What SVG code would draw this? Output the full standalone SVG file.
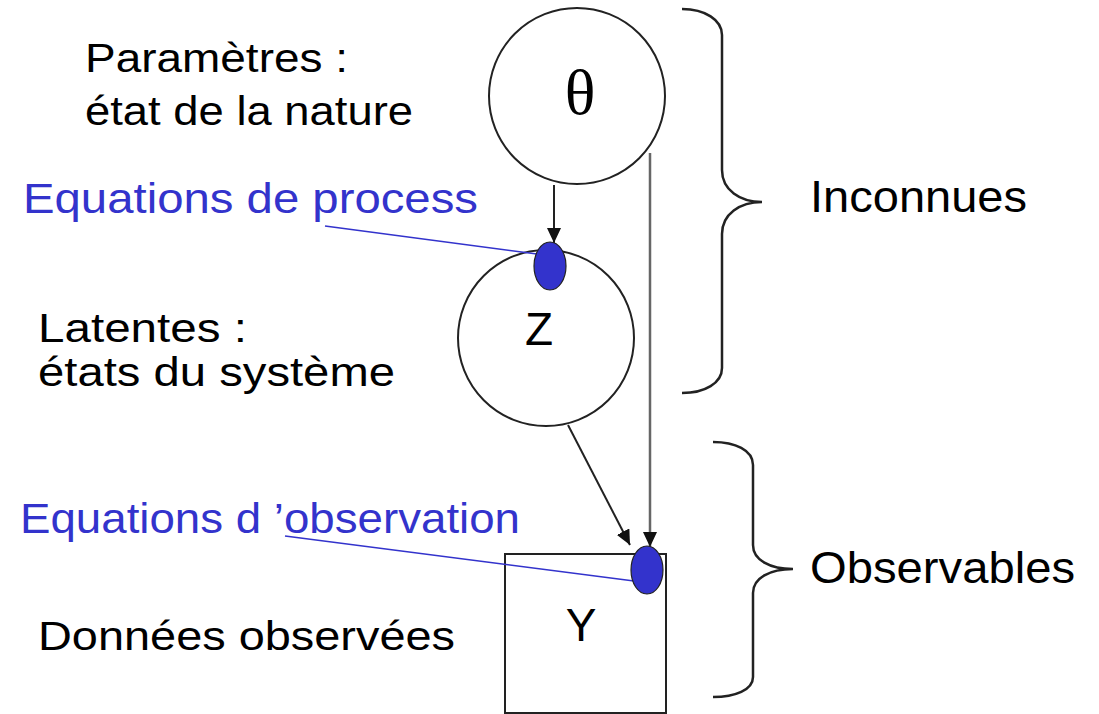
<svg xmlns="http://www.w3.org/2000/svg" width="1099" height="714" viewBox="0 0 1099 714">
<style>
.lbl{font-family:"Liberation Sans",Arial,sans-serif;font-size:41px;fill:#000}
.blue{font-family:"Liberation Sans",Arial,sans-serif;font-size:43px;fill:#3333cc}
.big{font-family:"Liberation Sans",Arial,sans-serif;font-size:45px;fill:#000}
.node{fill:#fff;stroke:#222;stroke-width:2}
.dot{fill:#3333cc;stroke:#222;stroke-width:1.2}
.brace{fill:none;stroke:#222;stroke-width:2.5}
.edge{stroke:#222;stroke-width:2;fill:none}
.gray{stroke:#666;stroke-width:2.5;fill:none}
.lead{stroke:#3333cc;stroke-width:1.5;fill:none}
</style>
<defs>
<marker id="ah" markerUnits="userSpaceOnUse" markerWidth="15" markerHeight="14" refX="15" refY="7" orient="auto">
<path d="M0,0 L15,7 L0,14 z" fill="#111"/>
</marker>
</defs>
<rect width="1099" height="714" fill="#fff"/>

<g id="theta">
<circle class="node" cx="577" cy="96" r="88"/>
<text x="580" y="114" text-anchor="middle" style="font-family:'Liberation Serif','Times New Roman',serif;font-size:64px">θ</text>
</g>
<g id="Z">
<circle class="node" cx="546" cy="338" r="88"/>
<text x="539" y="345" text-anchor="middle" style="font-family:'Liberation Sans',Arial,sans-serif;font-size:46px">Z</text>
</g>
<g id="Y">
<rect class="node" x="505" y="554" width="161" height="159"/>
<text x="581" y="641" text-anchor="middle" style="font-family:'Liberation Sans',Arial,sans-serif;font-size:46px">Y</text>
</g>

<g id="connectors">
<line class="edge" x1="554" y1="185" x2="554" y2="243" marker-end="url(#ah)"/>
<line class="gray" x1="650" y1="153" x2="650" y2="547" marker-end="url(#ah)"/>
<line class="edge" x1="568" y1="425" x2="630" y2="545" marker-end="url(#ah)"/>
<line class="lead" x1="325" y1="226" x2="537" y2="254"/>
<line class="lead" x1="285" y1="536" x2="634" y2="581"/>
</g>

<g id="process-dot">
<ellipse class="dot" cx="550" cy="266" rx="16" ry="24"/>
</g>
<g id="observation-dot">
<ellipse class="dot" cx="647" cy="570" rx="16" ry="24"/>
</g>

<g id="braces">
<path class="brace" d="M682,9 C705,9 722,20 722,35 L722,170 C722,190 740,202 762,202 C740,202 722,214 722,234 L722,368 C722,383 705,393 682,393"/>
<path class="brace" d="M713,442 C735,442 753,450 753,465 L753,545 C753,560 770,569 793,569 C770,569 753,578 753,593 L753,677 C753,690 735,697 713,697"/>
</g>

<g id="labels">
<text class="lbl" x="85" y="72" textLength="263" lengthAdjust="spacingAndGlyphs">Paramètres :</text>
<text class="lbl" x="85" y="125" textLength="328" lengthAdjust="spacingAndGlyphs">état de la nature</text>
<text class="blue" x="23" y="213" textLength="455" lengthAdjust="spacingAndGlyphs">Equations de process</text>
<text class="lbl" x="38" y="342" textLength="209" lengthAdjust="spacingAndGlyphs">Latentes :</text>
<text class="lbl" x="38" y="386" textLength="357" lengthAdjust="spacingAndGlyphs">états du système</text>
<text class="blue" x="20" y="533" textLength="500" lengthAdjust="spacingAndGlyphs">Equations d ’observation</text>
<text class="lbl" x="38" y="650" textLength="417" lengthAdjust="spacingAndGlyphs">Données observées</text>
<text class="big" x="810" y="212" textLength="217" lengthAdjust="spacingAndGlyphs">Inconnues</text>
<text class="big" x="810" y="583" textLength="265" lengthAdjust="spacingAndGlyphs">Observables</text>
</g>
</svg>
